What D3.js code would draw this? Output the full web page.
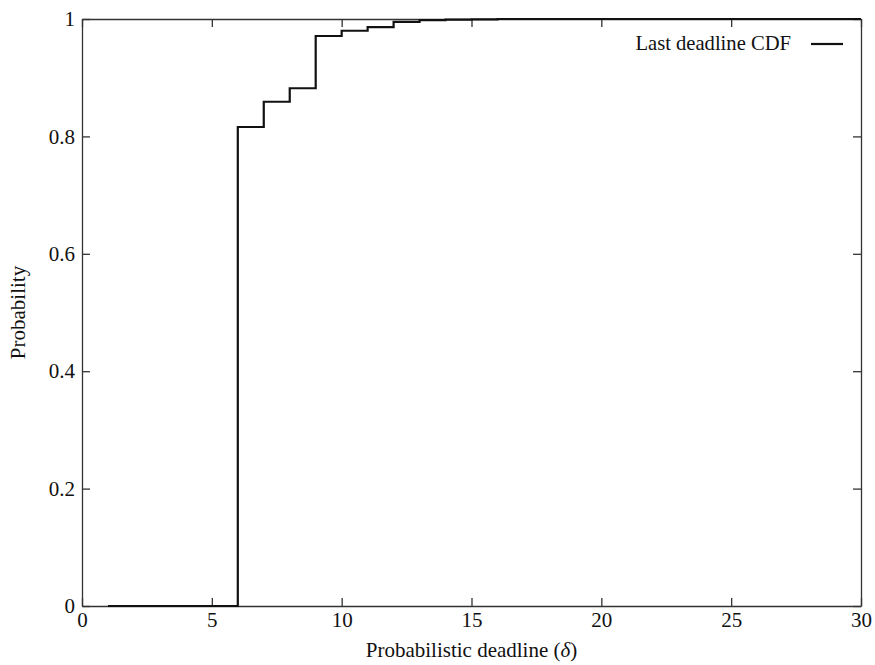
<!DOCTYPE html>
<html lang="en">

<head>
  <meta charset="UTF-8">
  <title>Last deadline CDF</title>
  <script src="https://d3js.org/d3.v7.min.js"></script>
  <style>
    html,
    body {
      padding: 0;
      margin: 0;
      background: #fff;
    }

    text {
      font-family: "Liberation Serif", "Times New Roman", serif;
      fill: #111;
    }
  </style>
</head>

<body>
  <script>
    const width = 875;
    const height = 665;
    const margin = { top: 19, right: 14, bottom: 59, left: 82 };

    // deadline (delta) and cumulative probability
    const deadlines = [1, 2, 3, 4, 5, 6, 7, 8, 9, 10, 11, 12, 13, 14, 15, 16, 17, 18, 19, 20, 21, 22, 23, 24, 25, 26, 27, 28, 29, 30];
    const probs = [0, 0, 0, 0, 0, 0.816, 0.859, 0.882, 0.971, 0.980, 0.986, 0.995, 0.998, 0.999, 0.9995, 1, 1, 1, 1, 1, 1, 1, 1, 1, 1, 1, 1, 1, 1, 1];
    const xTicks = [0, 5, 10, 15, 20, 25, 30];
    const yTicks = [0, 0.2, 0.4, 0.6, 0.8, 1];
    const seriesName = "Last deadline CDF";

    const x = d3.scaleLinear().domain([0, 30]).range([margin.left, width - margin.right]);
    const y = d3.scaleLinear().domain([0, 1]).range([height - margin.bottom, margin.top]);

    const svg = d3.select("body").append("svg")
      .attr("width", width)
      .attr("height", height);

    const tick = 8;
    const fmt = (d) => d3.format("~g")(d);

    // axes, ticks pointing inward, mirrored on top and right
    svg.append("g")
      .attr("transform", `translate(0,${y(0)})`)
      .call(d3.axisBottom(x).tickValues(xTicks).tickFormat(fmt).tickSizeInner(-tick).tickSizeOuter(0).tickPadding(4))
      .call(g => g.selectAll("text").attr("font-size", 21).attr("dy", "0.8em"));

    svg.append("g")
      .attr("transform", `translate(0,${y(1)})`)
      .call(d3.axisTop(x).tickValues(xTicks).tickFormat("").tickSizeInner(-tick).tickSizeOuter(0));

    svg.append("g")
      .attr("transform", `translate(${x(0)},0)`)
      .call(d3.axisLeft(y).tickValues(yTicks).tickFormat(fmt).tickSizeInner(-tick).tickSizeOuter(0).tickPadding(7))
      .call(g => g.selectAll("text").attr("font-size", 21));

    svg.append("g")
      .attr("transform", `translate(${x(30)},0)`)
      .call(d3.axisRight(y).tickValues(yTicks).tickFormat("").tickSizeInner(-tick).tickSizeOuter(0));

    svg.selectAll(".domain, .tick line")
      .attr("stroke", "#333")
      .attr("stroke-width", 1.3);

    // the step line
    const pts = deadlines.map((d, i) => ({ x: d, y: probs[i] }));
    svg.append("path")
      .datum(pts)
      .attr("fill", "none")
      .attr("stroke", "#111")
      .attr("stroke-width", 2.2)
      .attr("d", d3.line()
        .x(d => x(d.x))
        .y(d => y(d.y))
        .curve(d3.curveStepAfter));

    // legend
    svg.append("text")
      .attr("x", 791)
      .attr("y", 50)
      .attr("text-anchor", "end")
      .attr("font-size", 20.6)
      .text(seriesName);
    svg.append("line")
      .attr("x1", 811).attr("x2", 843)
      .attr("y1", 44).attr("y2", 44)
      .attr("stroke", "#111")
      .attr("stroke-width", 2.2);

    // axis titles
    const xt = svg.append("text")
      .attr("x", (x(0) + x(30)) / 2)
      .attr("y", 657)
      .attr("text-anchor", "middle")
      .attr("font-size", 21);
    xt.append("tspan").text("Probabilistic deadline (");
    xt.append("tspan").attr("font-style", "italic").text("δ");
    xt.append("tspan").text(")");

    svg.append("text")
      .attr("transform", `translate(25,${(y(0) + y(1)) / 2}) rotate(-90)`)
      .attr("text-anchor", "middle")
      .attr("font-size", 21)
      .text("Probability");
  </script>
</body>

</html>
